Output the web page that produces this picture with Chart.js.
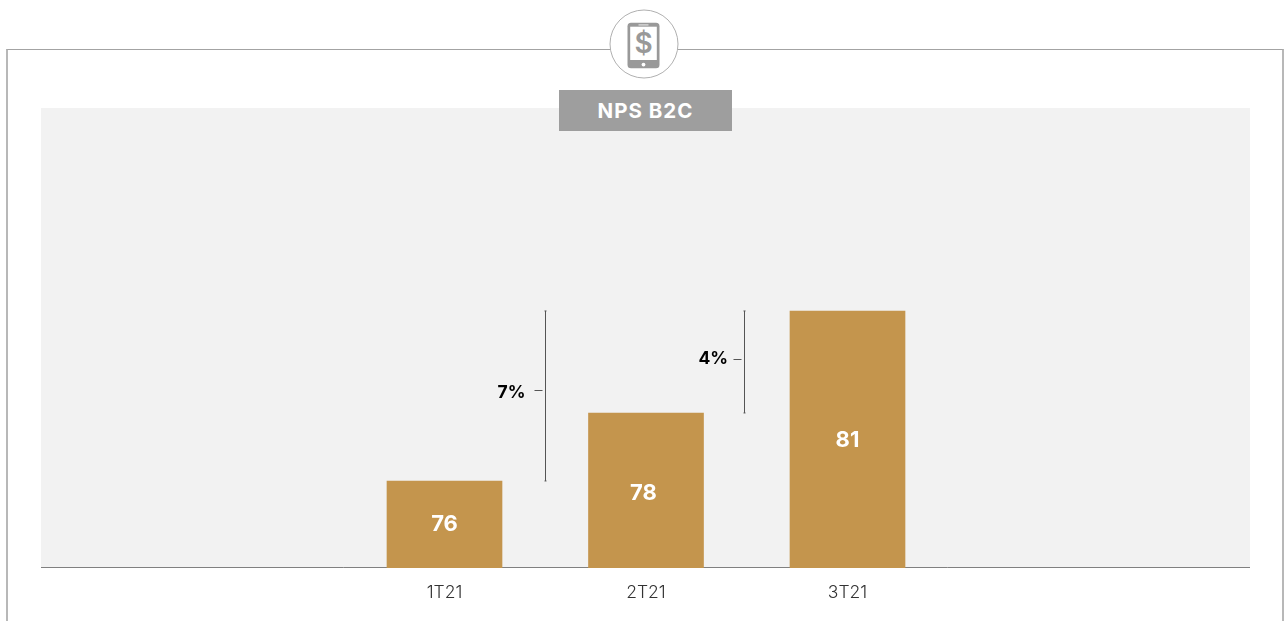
<!DOCTYPE html>
<html><head><meta charset="utf-8">
<script src="https://cdn.jsdelivr.net/npm/chart.js@4"></script>
<style>
html,body{margin:0;padding:0;background:#fff;overflow:hidden}
#stage{position:relative;width:1284px;height:621px;font-family:Inter,sans-serif}
#frame{position:absolute;left:6px;top:49px;width:1278px;height:600px;border-top:1px solid #a3a3a3;border-left:2px solid #b8b8b8;border-right:2px solid #b8b8b8;box-sizing:border-box}
#panel{position:absolute;left:41px;top:108px;width:1209px;height:460px;background:#f2f2f2}
#icon{position:absolute;left:600px;top:0;width:90px;height:90px}
#badge{position:absolute;left:559px;top:90px;width:173px;height:41px;background:#9e9e9e;color:#fff;font-weight:700;font-size:20.5px;line-height:42px;text-align:center;letter-spacing:1px;z-index:3}
canvas{position:absolute;left:0;top:0}
</style></head>
<body><div id="stage">
<div id="frame"></div><div id="panel"></div>
<svg id="icon" viewBox="0 0 90 90">
<circle cx="44" cy="44" r="34" fill="#fff" stroke="#b0b0b0" stroke-width="1"/>
<rect x="27.5" y="22.7" width="32" height="45.6" rx="3.5" fill="#999"/>
<rect x="30.2" y="26.7" width="26.6" height="33.3" fill="#fff"/>
<rect x="38.5" y="24.2" width="10" height="1.4" fill="#d8d8d8"/>
<circle cx="43.5" cy="64.6" r="1.9" fill="#fff"/>
<text x="43.5" y="53" text-anchor="middle" font-family="Inter,sans-serif" font-size="28" font-weight="600" fill="#999">$</text>
</svg>
<div id="badge">NPS B2C</div>
<canvas id="c" width="1284" height="621"></canvas>
</div>
<script>
const categories = ['1T21','2T21','3T21'];
const npsValues = [76,78,81];
const changeLabels = ['7%','4%'];
const changeFrom = [76,78];
const changeTo = [81,81];

const overlay = {
  id:'overlay',
  afterDatasetsDraw(chart){
    const {ctx,scales:{x,y}} = chart;
    ctx.save();
    ctx.fillStyle='#fff'; ctx.font='700 22px Inter, sans-serif';
    ctx.textAlign='center'; ctx.textBaseline='middle';
    const dy=[0,3,1], dx=[0,-2.5,0];
    npsValues.forEach((v,i)=>{
      const mid=(y.getPixelForValue(v)+y.getPixelForValue(y.min))/2;
      ctx.fillText(String(v),x.getPixelForValue(i)+dx[i],mid+dy[i]);
    });
    const px=[x.getPixelForValue(0.5),x.getPixelForValue(1.49)];
    const tickY=[390.5,359.5], textY=[393,359], textGap=[20,16.5];
    changeLabels.forEach((t,i)=>{
      const top=y.getPixelForValue(changeTo[i]), bot=y.getPixelForValue(changeFrom[i]);
      const X=Math.floor(px[i])+0.5;
      ctx.strokeStyle='#555'; ctx.lineWidth=1;
      ctx.beginPath();
      ctx.moveTo(X,top); ctx.lineTo(X,bot);
      ctx.moveTo(X-1,top); ctx.lineTo(X+1,top);
      ctx.moveTo(X-1,bot); ctx.lineTo(X+1,bot);
      ctx.moveTo(X-11,tickY[i]); ctx.lineTo(X-3,tickY[i]);
      ctx.stroke();
      ctx.fillStyle='#000'; ctx.font='700 17.5px Inter, sans-serif';
      ctx.textAlign='right'; ctx.textBaseline='middle';
      ctx.fillText(t,X-textGap[i],textY[i]);
    });
    ctx.restore();
  },
  beforeDatasetsDraw(chart){
    const {ctx,scales:{y}} = chart;
    const b=Math.round(y.getPixelForValue(y.min))-0.5;
    ctx.save(); ctx.strokeStyle='#808080'; ctx.lineWidth=1;
    ctx.beginPath(); ctx.moveTo(41,b); ctx.lineTo(1250,b); ctx.stroke(); ctx.restore();
  }
};

const canvas=document.getElementById('c');
canvas.getContext('2d').letterSpacing='0.6px';
new Chart(canvas,{
  type:'bar',
  data:{labels:categories,datasets:[{data:npsValues,backgroundColor:'#c4954d',barThickness:115,borderWidth:0}]},
  options:{
    responsive:false,animation:false,
    layout:{padding:{left:343.75,right:335.75,top:108,bottom:0}},
    plugins:{legend:{display:false},tooltip:{enabled:false}},
    scales:{
      x:{grid:{display:false},border:{display:false},
         ticks:{color:'#333',font:{family:'Inter, sans-serif',size:17.5,weight:'300'},padding:6,maxRotation:0},
         afterFit(s){s.height=53;}},
      y:{display:false,min:73.44,max:86.97}
    }
  },
  plugins:[overlay]
});
</script>
</body></html>
